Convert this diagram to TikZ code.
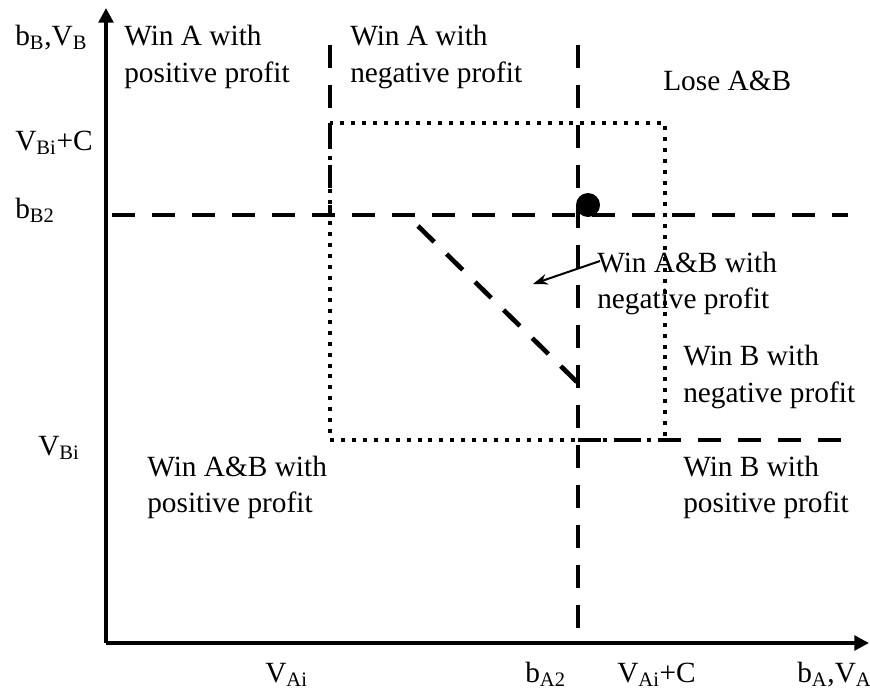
\documentclass[tikz,border=0pt]{standalone}
\usepackage{fontspec}
\setmainfont{Liberation Serif}
\usetikzlibrary{arrows.meta}
\newcommand\sbs[1]{\textsubscript{#1}}

\begin{document}
\begin{tikzpicture}[x=0.75pt,y=-0.75pt,
  lbl/.style={anchor=base west, inner sep=0pt, font=\fontsize{22}{27}\selectfont},
  axis/.style={line width=2.6pt, -{Triangle[length=11pt,width=11pt]}},
  bound/.style={line width=3.5pt, dash pattern=on 17pt off 13pt},
  box/.style={line width=3pt, dash pattern=on 3pt off 5.2pt},
  pointer/.style={line width=1.5pt, -{Stealth[length=11pt,width=8pt]}},
]
\useasboundingbox (0,0) rectangle (870,689);

% axes
\coordinate (O) at (106,643);
\coordinate (ytip) at (106,8);
\coordinate (xtip) at (869,643);
\draw[axis] (O) -- (ytip);
\draw[axis] (O) -- (xtip);

% region of the dotted rectangle
\coordinate (boxNW) at (330,123);
\coordinate (boxSE) at (665,440);
\draw[box] (boxNW) rectangle (boxSE);

% dashed boundaries
\coordinate (hL) at (112,215);
\coordinate (hR) at (848,215);
\coordinate (vAtop) at (330,45);
\coordinate (vAbot) at (330,215);
\coordinate (vBtop) at (578,45);
\coordinate (vBbot) at (578,643);
\coordinate (lowL) at (578,440);
\coordinate (lowR) at (848,440);
\coordinate (dgA) at (418,226);
\coordinate (dgB) at (578,383);
\draw[bound] (hL) -- (hR);
\draw[bound] (vAtop) -- (vAbot);
\draw[bound] (vBtop) -- (vBbot);
\draw[bound] (lowL) -- (lowR);
\draw[bound] (dgA) -- (dgB);

% bid point and arrow
\node[circle, fill, inner sep=0pt, minimum size=18pt] (bid) at (588,205) {};
\coordinate (arA) at (600,261);
\coordinate (arB) at (533,284);
\draw[pointer] (arA) -- (arB);

% axis labels
\node[lbl] (lbB) at (15,45) {b\sbs{B},V\sbs{B}};
\node[lbl] (lbBC) at (15,150) {V\sbs{Bi}+C};
\node[lbl] (lbB2) at (15,218) {b\sbs{B2}};
\node[lbl] (lbBi) at (38,455) {V\sbs{Bi}};
\node[lbl] (lbAi) at (265,682) {V\sbs{Ai}};
\node[lbl] (lbA2) at (525,682) {b\sbs{A2}};
\node[lbl] (lbAC) at (617,682) {V\sbs{Ai}+C};
\node[lbl] (lbA) at (797,682) {b\sbs{A},V\sbs{A}};

% region labels
\node[lbl] (r1a) at (124,45) {Win A with};
\node[lbl] (r1b) at (124,82) {positive profit};
\node[lbl] (r2a) at (350,45) {Win A with};
\node[lbl] (r2b) at (350,82) {negative profit};
\node[lbl] (r3) at (663,90) {Lose A\&B};
\node[lbl] (r4a) at (597,272) {Win A\&B with};
\node[lbl] (r4b) at (597,308) {negative profit};
\node[lbl] (r5a) at (683,365) {Win B with};
\node[lbl] (r5b) at (683,402) {negative profit};
\node[lbl] (r6a) at (147,476) {Win A\&B with};
\node[lbl] (r6b) at (147,512) {positive profit};
\node[lbl] (r7a) at (683,476) {Win B with};
\node[lbl] (r7b) at (683,512) {positive profit};
\end{tikzpicture}
\end{document}
